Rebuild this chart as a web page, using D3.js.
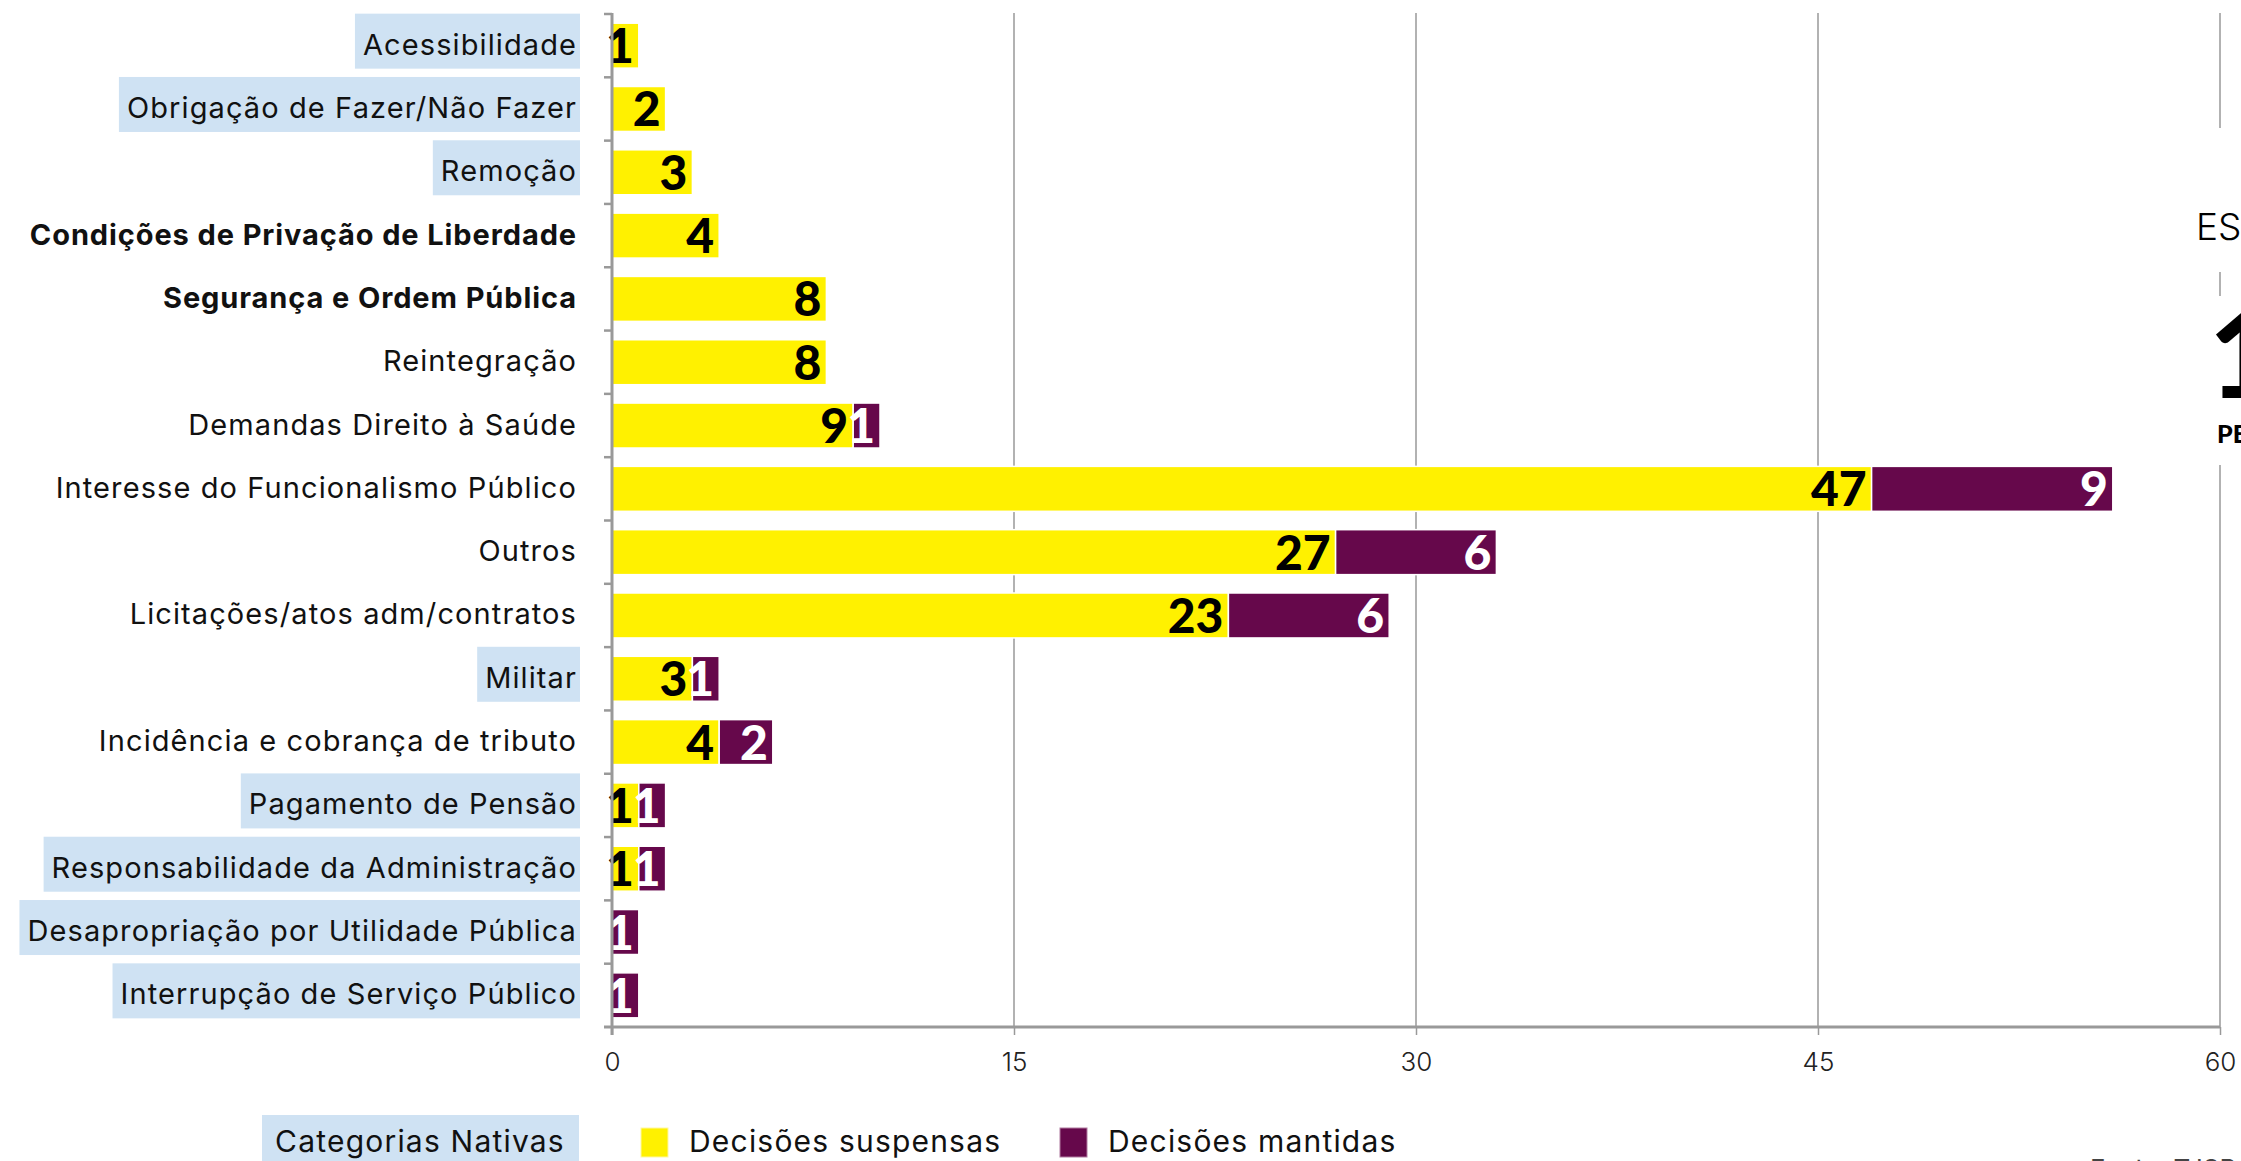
<!DOCTYPE html>
<html>
<head>
<meta charset="utf-8">
<script src="https://cdn.jsdelivr.net/npm/d3@7"></script>
<style>
    body { margin: 0; background: #fff; }
    svg { display: block; }
    .cat-label { font-family: "Inter", "Lato", sans-serif; font-size: 29px; letter-spacing: 1.1px; fill: #111; }
    .cat-label.bold { font-weight: 700; letter-spacing: 0.9px; }
    .value-label { font-family: "Lato", sans-serif; font-weight: 900; font-size: 48px; }
    .tick-label { font-family: "Inter", "Lato", sans-serif; font-size: 26px; font-weight: 300; fill: #222; }
    .legend-text { font-family: "Inter", "Lato", sans-serif; font-size: 30px; letter-spacing: 1.2px; fill: #111; }
</style>
</head>
<body>
<div id="chart"></div>
<script>
const width = 2241;
const height = 1161;
const margins = ({
    top: 14,
    right: 21,
    bottom: 134,
    left: 612
})

const categories = [
    "Acessibilidade",
    "Obrigação de Fazer/Não Fazer",
    "Remoção",
    "Condições de Privação de Liberdade",
    "Segurança e Ordem Pública",
    "Reintegração",
    "Demandas Direito à Saúde",
    "Interesse do Funcionalismo Público",
    "Outros",
    "Licitações/atos adm/contratos",
    "Militar",
    "Incidência e cobrança de tributo",
    "Pagamento de Pensão",
    "Responsabilidade da Administração",
    "Desapropriação por Utilidade Pública",
    "Interrupção de Serviço Público"
]
const suspensas = [1, 2, 3, 4, 8, 8, 9, 47, 27, 23, 3, 4, 1, 1, 0, 0]
const mantidas = [0, 0, 0, 0, 0, 0, 1, 9, 6, 6, 1, 2, 1, 1, 1, 1]
const nativas = ["Acessibilidade", "Obrigação de Fazer/Não Fazer", "Remoção", "Militar",
    "Pagamento de Pensão", "Responsabilidade da Administração",
    "Desapropriação por Utilidade Pública", "Interrupção de Serviço Público"]
const boldCategories = ["Condições de Privação de Liberdade", "Segurança e Ordem Pública"]
const xTicks = [0, 15, 30, 45, 60]
const seriesNames = ["Decisões suspensas", "Decisões mantidas"]

const yellow = "#fff100"
const purple = "#66084b"
const nativeBlue = "#cfe2f3"
const axisGray = "#999999"

const svg = d3.select("#chart")
    .append("svg")
    .attr("width", width)
    .attr("height", height)

const x = d3.scaleLinear()
    .domain([0, 60])
    .range([margins.left, width - margins.right])

const y = d3.scaleBand()
    .domain(categories)
    .range([margins.top, height - margins.bottom])
    .paddingInner(0.29)
    .paddingOuter(0.145)

const baseline = height - margins.bottom
const step = y.step()
const bandCenter = d => y(d) + y.bandwidth() / 2

// gridlines
svg.append("g")
    .selectAll("line")
    .data(xTicks.filter(d => d > 0))
    .enter()
    .append("line")
    .attr("x1", d => x(d))
    .attr("x2", d => x(d))
    .attr("y1", margins.top - 1)
    .attr("y2", baseline)
    .style("stroke", axisGray)
    .style("stroke-width", 1.5)

// category labels, native ones get a blue box
const labels = svg.append("g")
categories.forEach(cat => {
    let textEl = labels.append("text")
        .attr("class", boldCategories.includes(cat) ? "cat-label bold" : "cat-label")
        .attr("x", margins.left - 35)
        .attr("y", bandCenter(cat) + 9)
        .attr("text-anchor", "end")
        .text(boldCategories.includes(cat) ? cat + " " : cat)
    if (nativas.includes(cat)) {
        let w = textEl.node().getComputedTextLength()
        labels.insert("rect", "text")
            .attr("x", margins.left - 32 - w - 11)
            .attr("y", bandCenter(cat) - 32)
            .attr("width", w + 11)
            .attr("height", 55)
            .style("fill", nativeBlue)
    }
})

// stacked bars
const rows = categories.map((c, i) => ({ cat: c, s: suspensas[i], m: mantidas[i] }))

const bars = svg.append("g")
bars.selectAll(".bar-s")
    .data(rows.filter(d => d.s > 0))
    .enter()
    .append("rect")
    .attr("class", "bar-s")
    .attr("x", x(0))
    .attr("y", d => y(d.cat))
    .attr("width", d => x(d.s) - x(0))
    .attr("height", y.bandwidth())
    .style("fill", yellow)
    .style("stroke", "#fff")
    .style("stroke-width", 1.5)

bars.selectAll(".bar-m")
    .data(rows.filter(d => d.m > 0))
    .enter()
    .append("rect")
    .attr("class", "bar-m")
    .attr("x", d => x(d.s))
    .attr("y", d => y(d.cat))
    .attr("width", d => x(d.s + d.m) - x(d.s))
    .attr("height", y.bandwidth())
    .style("fill", purple)
    .style("stroke", "#fff")
    .style("stroke-width", 1.5)

bars.selectAll(".val-s")
    .data(rows.filter(d => d.s > 0))
    .enter()
    .append("text")
    .attr("class", "value-label")
    .attr("x", d => x(d.s) - 5)
    .attr("y", d => y(d.cat) + y.bandwidth() - 5)
    .attr("text-anchor", "end")
    .style("fill", "#000")
    .text(d => d.s)

bars.selectAll(".val-m")
    .data(rows.filter(d => d.m > 0))
    .enter()
    .append("text")
    .attr("class", "value-label")
    .attr("x", d => x(d.s + d.m) - 5)
    .attr("y", d => y(d.cat) + y.bandwidth() - 5)
    .attr("text-anchor", "end")
    .style("fill", "#fff")
    .text(d => d.m)

// axes
const boundaries = categories.map(c => y(c) - step * y.paddingInner() / 2)
svg.append("g")
    .selectAll("line")
    .data(boundaries)
    .enter()
    .append("line")
    .attr("x1", margins.left - 8)
    .attr("x2", margins.left)
    .attr("y1", d => d)
    .attr("y2", d => d)
    .style("stroke", axisGray)
    .style("stroke-width", 2.5)

svg.append("line")
    .attr("x1", margins.left)
    .attr("x2", margins.left)
    .attr("y1", margins.top - 1)
    .attr("y2", baseline + 8)
    .style("stroke", axisGray)
    .style("stroke-width", 3)

svg.append("line")
    .attr("x1", margins.left - 8)
    .attr("x2", x(60))
    .attr("y1", baseline)
    .attr("y2", baseline)
    .style("stroke", axisGray)
    .style("stroke-width", 3)

const xAxis = svg.append("g")
    .attr("transform", `translate(0, ${baseline})`)
    .call(d3.axisBottom(x).tickValues(xTicks).tickSize(8).tickPadding(18))
xAxis.select(".domain").remove()
xAxis.selectAll(".tick line").style("stroke", axisGray).style("stroke-width", 1.5)
xAxis.selectAll(".tick text")
    .attr("class", "tick-label")
    .attr("font-size", null)
    .attr("font-family", null)

// cut-off panel on the right edge
svg.append("rect").attr("x", 2180).attr("y", 128).attr("width", 61).attr("height", 144).style("fill", "#fff")
svg.append("rect").attr("x", 2180).attr("y", 296).attr("width", 61).attr("height", 169).style("fill", "#fff")
svg.append("text")
    .attr("x", 2196).attr("y", 240)
    .style("font-family", "Inter, Lato, sans-serif").style("font-weight", 300).style("font-size", "37px")
    .text("ESTADO")
svg.append("text")
    .attr("x", 2209).attr("y", 398)
    .style("font-family", "Lato, sans-serif").style("font-weight", 900).style("font-size", "118px")
    .text("1")
svg.append("text")
    .attr("x", 2217).attr("y", 443)
    .style("font-family", "Lato, sans-serif").style("font-weight", 900).style("font-size", "25px")
    .text("PEDIDOS")

// legend
const legend = svg.append("g")
legend.append("rect")
    .attr("x", 262).attr("y", 1115).attr("width", 317).attr("height", 50)
    .style("fill", nativeBlue)
legend.append("text")
    .attr("class", "legend-text")
    .attr("x", 420).attr("y", 1152)
    .attr("text-anchor", "middle")
    .text("Categorias Nativas")

const legendX = [641, 1060]
seriesNames.forEach((name, i) => {
    legend.append("rect")
        .attr("x", legendX[i]).attr("y", 1128).attr("width", 27).attr("height", 29)
        .style("fill", i == 0 ? yellow : purple)
        .style("stroke", i == 0 ? "#fff7a0" : "#b07aa0")
        .style("stroke-width", 1)
    legend.append("text")
        .attr("class", "legend-text")
        .attr("x", legendX[i] + 48).attr("y", 1152)
        .text(name)
})

svg.append("text")
    .attr("x", 2090).attr("y", 1178)
    .style("font-family", "Inter, Lato, sans-serif").style("font-size", "26px").style("fill", "#444")
    .text("Fonte: TJSP")
</script>
</body>
</html>
